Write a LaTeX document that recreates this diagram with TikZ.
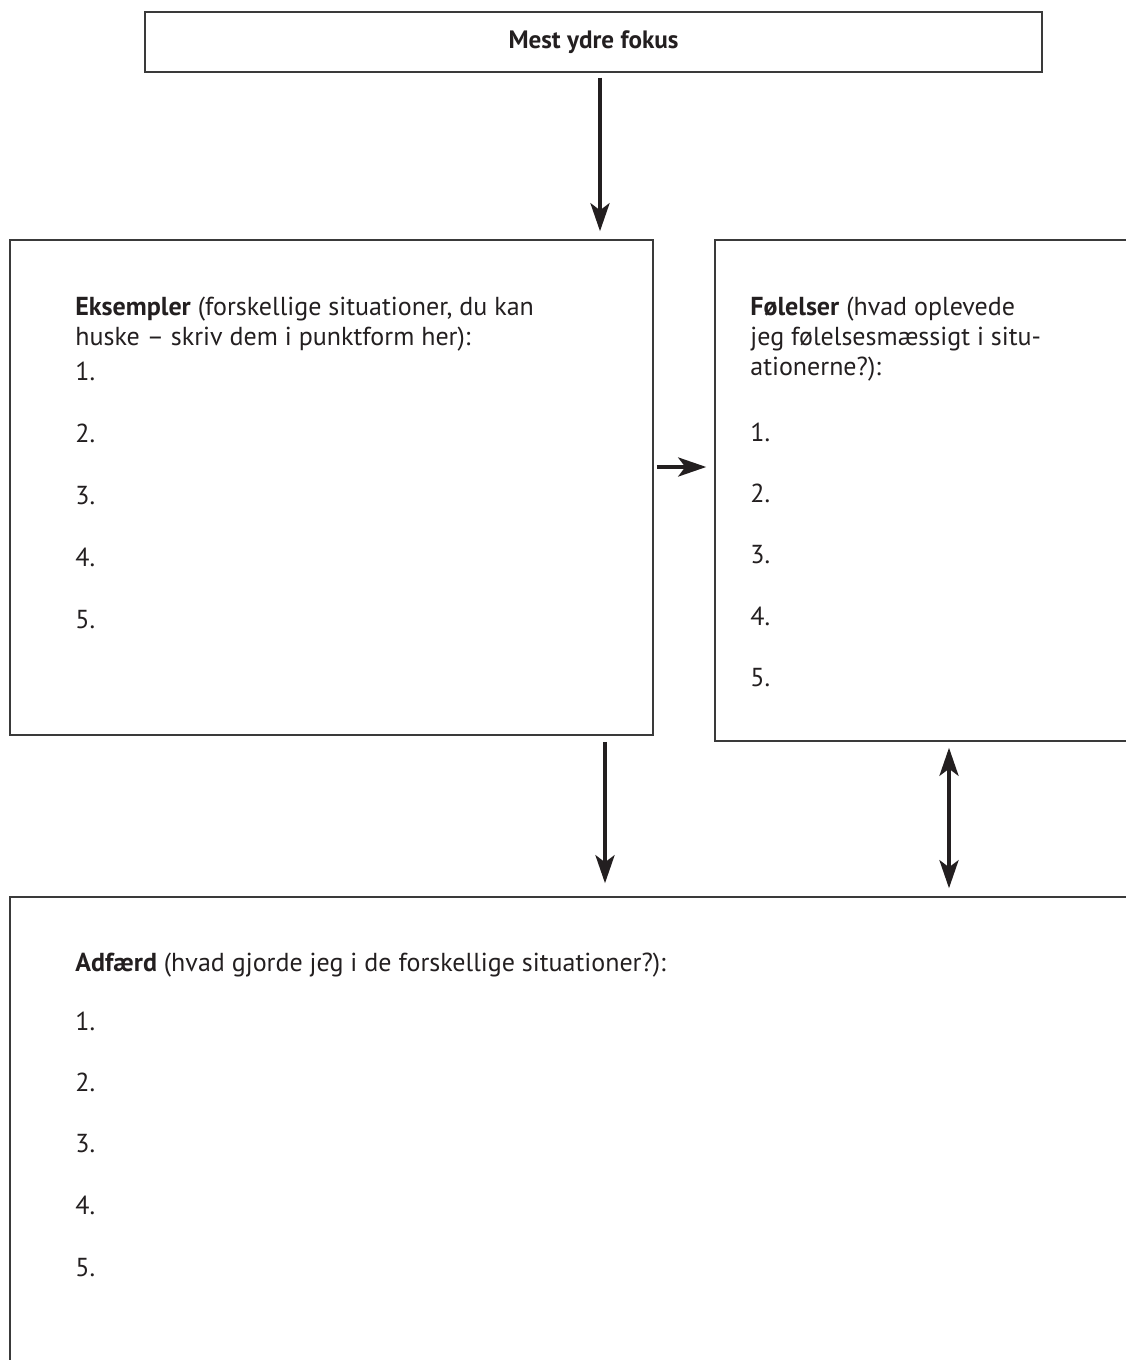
\documentclass[tikz,border=0pt]{standalone}
\usepackage{fontspec}
\setmainfont{PT Sans}
\usetikzlibrary{arrows.meta}
\definecolor{rammefarve}{HTML}{3A3A3A}
\definecolor{pilfarve}{HTML}{231F20}
\definecolor{tekstfarve}{HTML}{231F20}
\newcommand\brodtekst{\fontsize{14.8}{17.07}\selectfont}
\newcommand\titeltekst{\fontsize{14.3}{17.07}\selectfont\bfseries}
\begin{document}
\begin{tikzpicture}[x=0.2mm,y=-0.2mm,
  felt/.style={draw=rammefarve,line width=0.3mm,inner sep=0pt},
  pil/.style={line width=0.8mm,draw=pilfarve,-{Stealth[length=5.6mm,width=3.8mm,inset=1.4mm]}},
  dobbeltpil/.style={line width=0.8mm,draw=pilfarve,{Stealth[length=5.6mm,width=3.8mm,inset=1.4mm]}-{Stealth[length=5.6mm,width=3.8mm,inset=1.4mm]}},
  tekst/.style={anchor=base west,inner sep=0pt,align=left,text=tekstfarve,font=\brodtekst}]
\useasboundingbox (0,0) rectangle (1126,1360);
\clip (0,0) rectangle (1126,1360);
% felterne
\node (ydre) at (593.5,42) [felt,minimum width=179.4mm,minimum height=12mm,text=tekstfarve,font=\titeltekst] {Mest ydre fokus};
\node (eks) at (331.5,487.5) [felt,minimum width=128.6mm,minimum height=99mm] {};
\node (fol) at (927.5,490.5) [felt,minimum width=85mm,minimum height=100.2mm] {};
\node (adf) at (575,1138.5) [felt,minimum width=226mm,minimum height=96.6mm] {};
% tekster (base = sidste linjes grundlinje)
\node (eksover) at (75,345) [tekst] {\textbf{Eksempler} (forskellige situationer, du kan\\huske -- skriv dem i punktform her):};
\node (e1) at (75,380) [tekst] {1.};
\node (e2) at (75,442) [tekst] {2.};
\node (e3) at (75,504) [tekst] {3.};
\node (e4) at (75,566) [tekst] {4.};
\node (e5) at (75,628) [tekst] {5.};
\node (folover) at (750,375) [tekst] {\textbf{Følelser} (hvad oplevede\\jeg følelsesmæssigt i situ-\\ationerne?):};
\node (f1) at (750,441) [tekst] {1.};
\node (f2) at (750,502) [tekst] {2.};
\node (f3) at (750,563) [tekst] {3.};
\node (f4) at (750,625) [tekst] {4.};
\node (f5) at (750,686) [tekst] {5.};
\node (adfover) at (75,971) [tekst] {\textbf{Adfærd} (hvad gjorde jeg i de forskellige situationer?):};
\node (a1) at (75,1030) [tekst] {1.};
\node (a2) at (75,1091) [tekst] {2.};
\node (a3) at (75,1152) [tekst] {3.};
\node (a4) at (75,1214) [tekst] {4.};
\node (a5) at (75,1276) [tekst] {5.};
% pile
\coordinate (k1) at (600,0);
\coordinate (k2) at (0,467);
\coordinate (k3) at (605,0);
\coordinate (k4) at (949,0);
\draw [pil,shorten <=1mm,shorten >=1.6mm] (ydre.south -| k1) -- (eks.north -| k1);
\draw [pil,shorten <=0.6mm,shorten >=1.6mm] (eks.east |- k2) -- (fol.west |- k2);
\draw [pil,shorten <=1.2mm,shorten >=2.6mm] (eks.south -| k3) -- (adf.north -| k3);
\draw [dobbeltpil,shorten <=1.2mm,shorten >=1.6mm] (fol.south -| k4) -- (adf.north -| k4);
\end{tikzpicture}
\end{document}
